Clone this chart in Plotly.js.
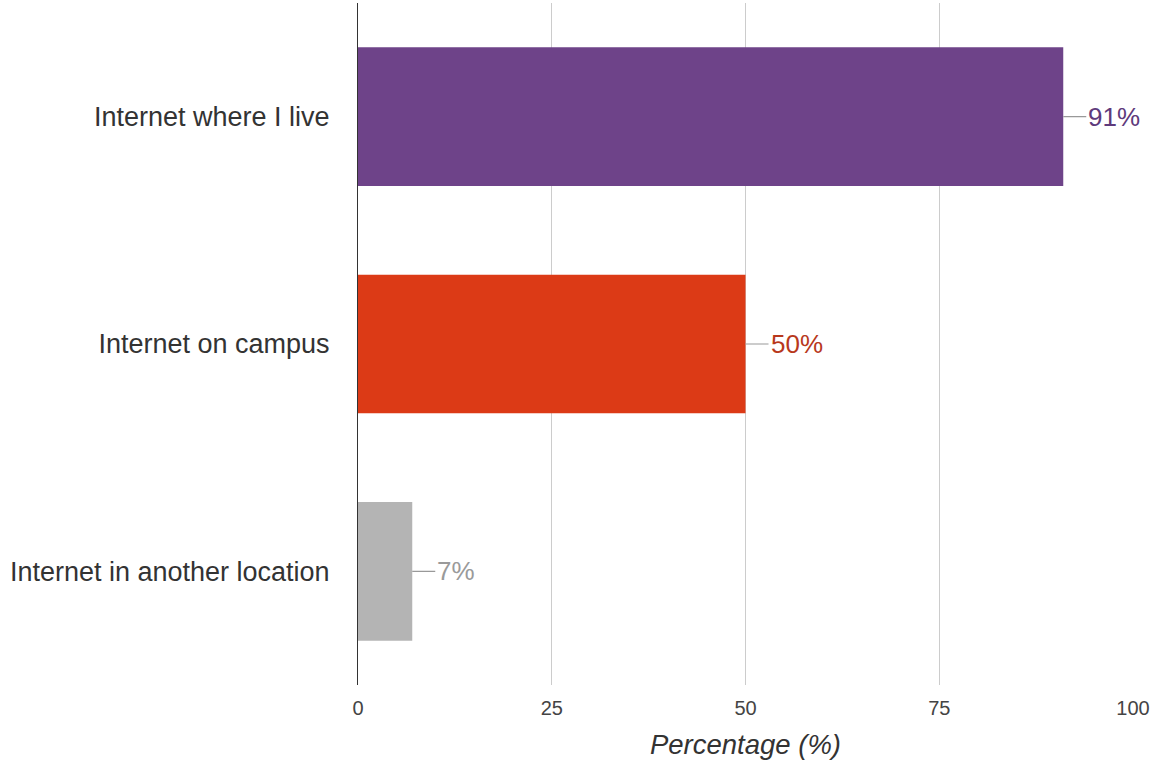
<!DOCTYPE html>
<html>
<head>
<meta charset="utf-8">
<script src="https://cdn.plot.ly/plotly-3.0.1.min.js"></script>
<style>
  body { margin: 0; background: #fff; }
  #myDiv { width: 1156px; height: 760px; }
</style>
</head>
<body>
<div id="myDiv"></div>
<script>
var categories = ['Internet where I live', 'Internet on campus', 'Internet in another location'];
var percentages = [91, 50, 7];
var barColors = ['#6e4389', '#dc3a16', '#b4b4b4'];
var labelColors = ['#5e3a7c', '#b8381c', '#9a9a9a'];
var xTicks = [0, 25, 50, 75, 100];

function barChart() {
    var data = [{
        x: percentages,
        y: categories,
        type: 'bar',
        orientation: 'h',
        marker: { color: barColors },
        hoverinfo: 'none'
    }];

    var labels = [];
    percentages.forEach(function(v, i) {
        labels.push({
            x: v,
            y: categories[i],
            text: v + '%',
            showarrow: true,
            arrowhead: 0,
            arrowwidth: 1.2,
            arrowcolor: '#999999',
            ax: 23,
            ay: 0,
            xanchor: 'left',
            font: { family: '"Liberation Sans", Arial, sans-serif', size: 26, color: labelColors[i] }
        });
    });

    var layout = {
        width: 1156,
        height: 760,
        margin: { l: 358, r: 23, t: 3, b: 75 },
        paper_bgcolor: '#ffffff',
        plot_bgcolor: '#ffffff',
        showlegend: false,
        bargap: 0.39,
        font: { family: '"Liberation Sans", Arial, sans-serif', color: '#333333' },
        xaxis: {
            range: [0, 100],
            tickvals: xTicks,
            ticktext: xTicks.map(String),
            showgrid: true,
            gridcolor: '#cccccc',
            gridwidth: 1,
            zeroline: false,
            ticks: 'outside',
            ticklen: 5,
            tickcolor: 'rgba(0,0,0,0)',
            tickfont: { size: 20, color: '#444444' },
            title: {
                text: 'Percentage (%)',
                font: { size: 27.5, color: '#333333', style: 'italic' },
                standoff: 16
            },
            fixedrange: true
        },
        yaxis: {
            autorange: 'reversed',
            showline: true,
            linecolor: '#333333',
            linewidth: 1,
            showgrid: false,
            ticks: 'outside',
            ticklen: 22,
            tickcolor: 'rgba(0,0,0,0)',
            tickfont: { size: 27, color: '#333333' },
            fixedrange: true
        },
        annotations: labels
    };

    Plotly.newPlot('myDiv', data, layout, { displayModeBar: false, staticPlot: true });
}

barChart();
</script>
</body>
</html>
